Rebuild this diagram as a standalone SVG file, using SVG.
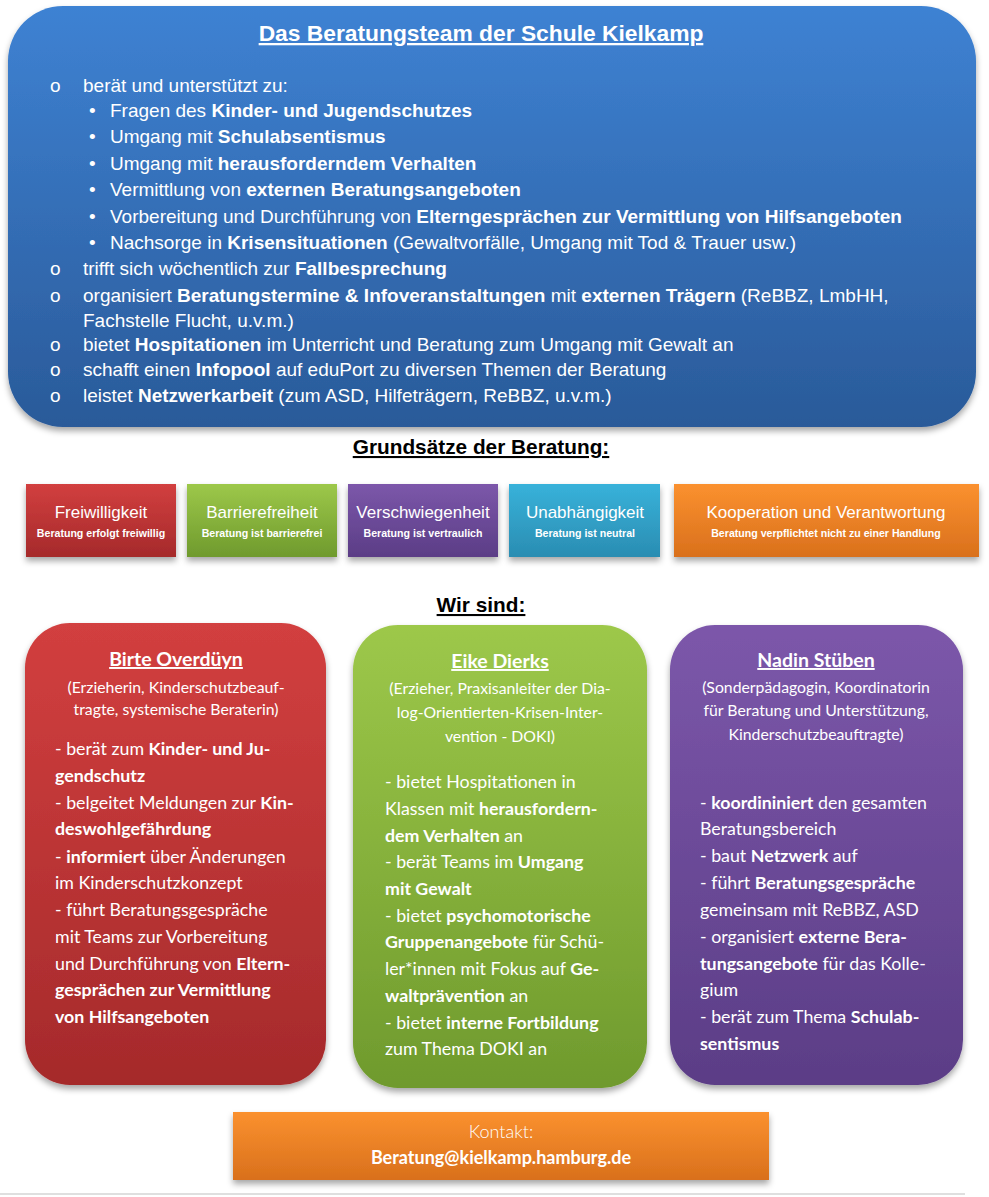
<svg xmlns="http://www.w3.org/2000/svg" width="989" height="1197" viewBox="0 0 989 1197">
<defs>
<linearGradient id="gBlue" x1="0" y1="0" x2="0" y2="1"><stop offset="0" stop-color="#3e82d3"/><stop offset="1" stop-color="#2a5a99"/></linearGradient>
<linearGradient id="gRed" x1="0" y1="0" x2="0" y2="1"><stop offset="0" stop-color="#d23f3f"/><stop offset="1" stop-color="#a52a2b"/></linearGradient>
<linearGradient id="gGreen" x1="0" y1="0" x2="0" y2="1"><stop offset="0" stop-color="#9dc84a"/><stop offset="1" stop-color="#6f9a2d"/></linearGradient>
<linearGradient id="gPurple" x1="0" y1="0" x2="0" y2="1"><stop offset="0" stop-color="#7c57aa"/><stop offset="1" stop-color="#5b3d86"/></linearGradient>
<linearGradient id="gTeal" x1="0" y1="0" x2="0" y2="1"><stop offset="0" stop-color="#38b2da"/><stop offset="1" stop-color="#2a8db2"/></linearGradient>
<linearGradient id="gOrange" x1="0" y1="0" x2="0" y2="1"><stop offset="0" stop-color="#fb912f"/><stop offset="1" stop-color="#d9701c"/></linearGradient>
<filter id="sh" x="-10%" y="-10%" width="120%" height="125%"><feDropShadow dx="0" dy="4" stdDeviation="3" flood-color="#000" flood-opacity="0.35"/></filter>
</defs>
<style>
.w{fill:#fff}
.a{font-family:"Liberation Sans",Arial,sans-serif}
.c{font-family:Lato,"Noto Sans",sans-serif}
.b{font-weight:bold}
.top{font-size:19px}
.h{font-size:20.8px;font-weight:bold;fill:#000;text-decoration:underline}
.pt{font-size:17px}
.ps{font-size:10.6px;font-weight:bold}
.cn{font-size:19.5px;font-weight:bold;text-decoration:underline}
.cs{font-size:15.8px}
.cb{font-size:17.8px}
</style>
<rect width="989" height="1197" fill="#fff"/>

<g id="team-box">
<rect x="8" y="6" width="968" height="421" rx="55" ry="55" fill="url(#gBlue)" filter="url(#sh)"/>
<text class="a w b" x="481" y="41" font-size="22.8" text-anchor="middle" text-decoration="underline">Das Beratungsteam der Schule Kielkamp</text>
<g class="a w top">
<text x="50" y="92">o</text><text x="83" y="92">berät und unterstützt zu:</text>
<text x="89" y="117">•</text><text x="110" y="117">Fragen des <tspan class="b">Kinder- und Jugendschutzes</tspan></text>
<text x="89" y="143">•</text><text x="110" y="143">Umgang mit <tspan class="b">Schulabsentismus</tspan></text>
<text x="89" y="170">•</text><text x="110" y="170">Umgang mit <tspan class="b">herausforderndem Verhalten</tspan></text>
<text x="89" y="196">•</text><text x="110" y="196">Vermittlung von <tspan class="b">externen Beratungsangeboten</tspan></text>
<text x="89" y="223">•</text><text x="110" y="223">Vorbereitung und Durchführung von <tspan class="b">Elterngesprächen zur Vermittlung von Hilfsangeboten</tspan></text>
<text x="89" y="249">•</text><text x="110" y="249">Nachsorge in <tspan class="b">Krisensituationen</tspan> (Gewaltvorfälle, Umgang mit Tod &amp; Trauer usw.)</text>
<text x="50" y="275">o</text><text x="83" y="275">trifft sich wöchentlich zur <tspan class="b">Fallbesprechung</tspan></text>
<text x="50" y="302">o</text><text x="83" y="302">organisiert <tspan class="b">Beratungstermine &amp; Infoveranstaltungen</tspan> mit <tspan class="b">externen Trägern</tspan> (ReBBZ, LmbHH,</text>
<text x="83" y="327">Fachstelle Flucht, u.v.m.)</text>
<text x="50" y="351">o</text><text x="83" y="351">bietet <tspan class="b">Hospitationen</tspan> im Unterricht und Beratung zum Umgang mit Gewalt an</text>
<text x="50" y="376">o</text><text x="83" y="376">schafft einen <tspan class="b">Infopool</tspan> auf eduPort zu diversen Themen der Beratung</text>
<text x="50" y="402">o</text><text x="83" y="402">leistet <tspan class="b">Netzwerkarbeit</tspan> (zum ASD, Hilfeträgern, ReBBZ, u.v.m.)</text>
</g>
</g>

<text id="grundsaetze-title" class="a h" x="481" y="454" text-anchor="middle">Grundsätze der Beratung:</text>

<g id="p-freiwilligkeit">
<rect x="26" y="484" width="150" height="73" fill="url(#gRed)" filter="url(#sh)"/>
<text class="a w pt" x="101" y="518" text-anchor="middle">Freiwilligkeit</text>
<text class="a w ps" x="101" y="537" text-anchor="middle">Beratung erfolgt freiwillig</text>
</g>
<g id="p-barrierefreiheit">
<rect x="187" y="484" width="150" height="73" fill="url(#gGreen)" filter="url(#sh)"/>
<text class="a w pt" x="262" y="518" text-anchor="middle">Barrierefreiheit</text>
<text class="a w ps" x="262" y="537" text-anchor="middle">Beratung ist barrierefrei</text>
</g>
<g id="p-verschwiegenheit">
<rect x="348" y="484" width="150" height="73" fill="url(#gPurple)" filter="url(#sh)"/>
<text class="a w pt" x="423" y="518" text-anchor="middle">Verschwiegenheit</text>
<text class="a w ps" x="423" y="537" text-anchor="middle">Beratung ist vertraulich</text>
</g>
<g id="p-unabhaengigkeit">
<rect x="509" y="484" width="151" height="73" fill="url(#gTeal)" filter="url(#sh)"/>
<text class="a w pt" x="585" y="518" text-anchor="middle">Unabhängigkeit</text>
<text class="a w ps" x="585" y="537" text-anchor="middle">Beratung ist neutral</text>
</g>
<g id="p-kooperation">
<rect x="674" y="484" width="305" height="73" fill="url(#gOrange)" filter="url(#sh)"/>
<text class="a w pt" x="826" y="518" text-anchor="middle">Kooperation und Verantwortung</text>
<text class="a w ps" x="826" y="537" text-anchor="middle">Beratung verpflichtet nicht zu einer Handlung</text>
</g>

<text id="wir-sind-title" class="a h" x="481" y="612" text-anchor="middle">Wir sind:</text>

<g id="card-birte" class="c w">
<rect x="25" y="623" width="301" height="462" rx="45" ry="45" fill="url(#gRed)" filter="url(#sh)"/>
<text class="cn" x="176" y="666" text-anchor="middle">Birte Overdüyn</text>
<text class="cs" x="176" y="693" text-anchor="middle">(Erzieherin, Kinderschutzbeauf-</text>
<text class="cs" x="176" y="715" text-anchor="middle">tragte, systemische Beraterin)</text>
<g class="cb">
<text x="55" y="755">- berät zum <tspan class="b">Kinder- und Ju-</tspan></text>
<text x="55" y="782" class="b">gendschutz</text>
<text x="55" y="809">- belgeitet Meldungen zur <tspan class="b">Kin-</tspan></text>
<text x="55" y="835" class="b">deswohlgefährdung</text>
<text x="55" y="863">- <tspan class="b">informiert</tspan> über Änderungen</text>
<text x="55" y="889">im Kinderschutzkonzept</text>
<text x="55" y="916">- führt Beratungsgespräche</text>
<text x="55" y="943">mit Teams zur Vorbereitung</text>
<text x="55" y="970">und Durchführung von <tspan class="b">Eltern-</tspan></text>
<text x="55" y="996" class="b">gesprächen zur Vermittlung</text>
<text x="55" y="1023" class="b">von Hilfsangeboten</text>
</g>
</g>

<g id="card-eike" class="c w">
<rect x="353" y="625" width="294" height="463" rx="45" ry="45" fill="url(#gGreen)" filter="url(#sh)"/>
<text class="cn" x="500" y="668" text-anchor="middle">Eike Dierks</text>
<text class="cs" x="500" y="694" text-anchor="middle">(Erzieher, Praxisanleiter der Dia-</text>
<text class="cs" x="500" y="718" text-anchor="middle">log-Orientierten-Krisen-Inter-</text>
<text class="cs" x="500" y="742" text-anchor="middle">vention - DOKI)</text>
<g class="cb">
<text x="385" y="788">- bietet Hospitationen in</text>
<text x="385" y="815">Klassen mit <tspan class="b">herausfordern-</tspan></text>
<text x="385" y="842"><tspan class="b">dem Verhalten</tspan> an</text>
<text x="385" y="868">- berät Teams im <tspan class="b">Umgang</tspan></text>
<text x="385" y="895" class="b">mit Gewalt</text>
<text x="385" y="922">- bietet <tspan class="b">psychomotorische</tspan></text>
<text x="385" y="948"><tspan class="b">Gruppenangebote</tspan> für Schü-</text>
<text x="385" y="975">ler*innen mit Fokus auf <tspan class="b">Ge-</tspan></text>
<text x="385" y="1002"><tspan class="b">waltprävention</tspan> an</text>
<text x="385" y="1029">- bietet <tspan class="b">interne Fortbildung</tspan></text>
<text x="385" y="1055">zum Thema DOKI an</text>
</g>
</g>

<g id="card-nadin" class="c w">
<rect x="670" y="625" width="293" height="460" rx="45" ry="45" fill="url(#gPurple)" filter="url(#sh)"/>
<text class="cn" x="816" y="667" text-anchor="middle">Nadin Stüben</text>
<text class="cs" x="816" y="693" text-anchor="middle">(Sonderpädagogin, Koordinatorin</text>
<text class="cs" x="816" y="716" text-anchor="middle">für Beratung und Unterstützung,</text>
<text class="cs" x="816" y="740" text-anchor="middle">Kinderschutzbeauftragte)</text>
<g class="cb">
<text x="700" y="809">- <tspan class="b">koordininiert</tspan> den gesamten</text>
<text x="700" y="835">Beratungsbereich</text>
<text x="700" y="862">- baut <tspan class="b">Netzwerk</tspan> auf</text>
<text x="700" y="889">- führt <tspan class="b">Beratungsgespräche</tspan></text>
<text x="700" y="916">gemeinsam mit ReBBZ, ASD</text>
<text x="700" y="943">- organisiert <tspan class="b">externe Bera-</tspan></text>
<text x="700" y="970"><tspan class="b">tungsangebote</tspan> für das Kolle-</text>
<text x="700" y="996">gium</text>
<text x="700" y="1023">- berät zum Thema <tspan class="b">Schulab-</tspan></text>
<text x="700" y="1050" class="b">sentismus</text>
</g>
</g>

<g id="kontakt" class="c w">
<rect x="233" y="1112" width="536" height="68" fill="url(#gOrange)" filter="url(#sh)"/>
<text x="501" y="1138" font-size="18" font-weight="300" text-anchor="middle">Kontakt:</text>
<text x="501" y="1164" font-size="18" font-weight="bold" text-anchor="middle">Beratung@kielkamp.hamburg.de</text>
</g>

<line x1="0" y1="1194" x2="965" y2="1194" stroke="#d4d4d4" stroke-width="1.5"/>
</svg>
